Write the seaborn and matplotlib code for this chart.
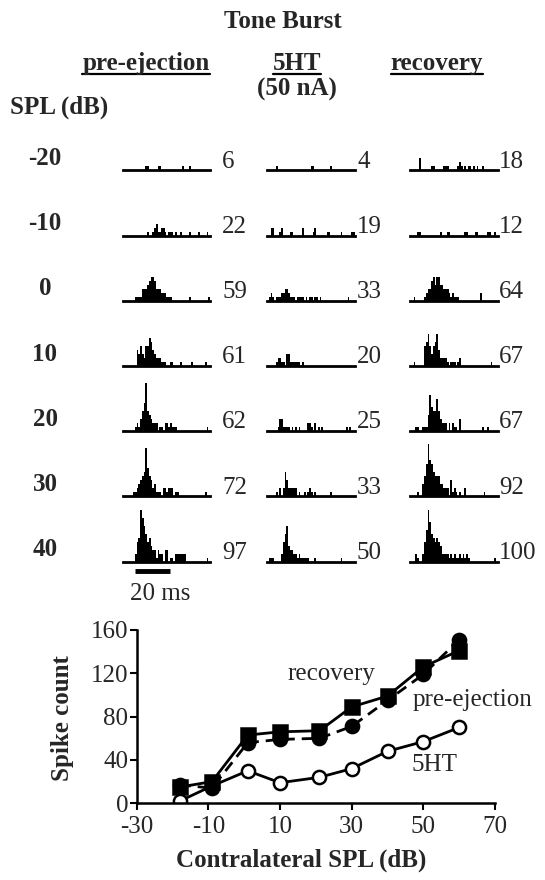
import numpy as np
import pandas as pd
import matplotlib
matplotlib.use('Agg')
import matplotlib.pyplot as plt
from matplotlib.lines import Line2D
import seaborn as sns

# PSTHs: spikes per 1 ms bin in a 0-50 ms window (only non-empty bins listed)
levels = ['-20', '-10', '0', '10', '20', '30', '40']

psth_pre = [
    {13: 1, 14: 1, 20: 1, 21: 1, 34: 1, 38: 1},
    {14: 1, 17: 1, 18: 2, 19: 3, 20: 1, 21: 1, 22: 2, 23: 2, 24: 1, 26: 1, 27: 1, 28: 1, 30: 1,
     33: 1, 38: 1, 43: 1, 48: 1},
    {7: 1, 8: 1, 9: 1, 10: 1, 11: 3, 12: 3, 13: 3, 14: 4, 15: 5, 16: 6, 17: 6, 18: 5, 19: 3,
     20: 3, 21: 3, 22: 2, 23: 2, 24: 2, 25: 1, 26: 1, 27: 1, 38: 1, 49: 1},
    {8: 4, 9: 3, 10: 5, 11: 3, 12: 2, 13: 5, 14: 5, 15: 7, 16: 6, 17: 4, 18: 3, 19: 2, 20: 2,
     21: 2, 22: 1, 23: 1, 24: 1, 27: 1, 28: 1, 33: 1, 39: 1, 47: 1},
    {7: 1, 8: 2, 9: 1, 10: 3, 11: 5, 12: 7, 13: 12, 14: 5, 15: 4, 16: 3, 17: 2, 18: 2, 19: 2,
     21: 1, 22: 1, 24: 2, 25: 2, 26: 1, 27: 2, 28: 1, 29: 1, 30: 1, 48: 1},
    {6: 1, 7: 1, 8: 2, 9: 3, 10: 4, 11: 5, 12: 6, 13: 12, 14: 7, 15: 5, 16: 4, 17: 2, 18: 3,
     19: 1, 20: 1, 21: 1, 23: 2, 24: 2, 25: 1, 26: 2, 27: 2, 28: 2, 30: 1, 31: 1, 47: 1},
    {7: 2, 8: 5, 9: 6, 10: 13, 11: 11, 12: 9, 13: 7, 14: 5, 15: 6, 16: 4, 17: 3, 18: 3, 19: 1,
     20: 3, 21: 2, 22: 2, 24: 3, 25: 3, 27: 1, 28: 1, 30: 2, 31: 2, 32: 2, 33: 2, 34: 2, 35: 2,
     48: 1},
]
psth_5ht = [
    {5: 1, 25: 1, 26: 1, 36: 1},
    {2: 2, 3: 2, 7: 1, 8: 2, 13: 1, 14: 1, 20: 2, 26: 1, 27: 2, 34: 1, 35: 1, 42: 1, 48: 1, 49: 1},
    {1: 1, 2: 2, 3: 1, 5: 1, 6: 1, 7: 1, 8: 2, 9: 2, 10: 3, 11: 3, 12: 2, 13: 1, 14: 1, 15: 1,
     17: 1, 18: 1, 19: 1, 20: 1, 22: 1, 24: 1, 25: 1, 27: 1, 28: 1, 30: 1, 46: 1},
    {5: 1, 6: 2, 7: 2, 8: 1, 9: 1, 11: 3, 12: 3, 13: 1, 14: 1, 15: 1, 16: 1, 17: 1, 18: 1, 20: 1},
    {6: 1, 7: 3, 8: 3, 9: 1, 10: 1, 11: 1, 12: 1, 14: 1, 16: 1, 18: 1, 23: 2, 24: 2, 25: 1,
     27: 2, 29: 1, 31: 1, 45: 1, 47: 1},
    {5: 1, 7: 2, 9: 2, 10: 6, 11: 4, 12: 2, 13: 2, 14: 2, 15: 2, 16: 2, 18: 1, 21: 1, 23: 1,
     24: 2, 25: 1, 27: 1, 36: 1},
    {1: 1, 2: 1, 3: 1, 8: 2, 9: 5, 10: 7, 11: 9, 12: 4, 13: 3, 14: 3, 15: 2, 16: 2, 17: 1,
     18: 2, 19: 1, 20: 1, 21: 1, 22: 1, 23: 1, 27: 1, 42: 1},
]
psth_rec = [
    {5: 3, 12: 1, 13: 1, 19: 1, 20: 1, 21: 1, 27: 1, 28: 2, 29: 1, 31: 1, 33: 1, 34: 1, 36: 1,
     38: 1, 41: 1},
    {4: 1, 5: 1, 17: 1, 21: 1, 22: 1, 31: 1, 32: 1, 37: 1, 38: 1, 44: 1, 45: 1, 48: 1},
    {2: 1, 8: 1, 9: 2, 10: 3, 11: 3, 12: 5, 13: 6, 14: 4, 15: 6, 16: 6, 17: 4, 18: 4, 19: 3,
     20: 3, 21: 3, 22: 2, 23: 1, 24: 2, 25: 1, 26: 1, 27: 1, 40: 2},
    {2: 1, 8: 5, 9: 6, 10: 8, 11: 5, 12: 3, 13: 5, 14: 6, 15: 8, 16: 4, 17: 2, 18: 2, 19: 2,
     20: 2, 21: 1, 23: 1, 24: 1, 25: 1, 27: 1, 28: 2, 46: 1},
    {3: 1, 4: 1, 7: 1, 8: 1, 9: 1, 10: 4, 11: 9, 12: 6, 13: 5, 14: 5, 15: 8, 16: 5, 17: 3,
     18: 2, 19: 2, 20: 2, 22: 2, 24: 2, 25: 1, 26: 1, 28: 3, 41: 1, 44: 1},
    {4: 1, 7: 3, 8: 5, 9: 8, 10: 13, 11: 9, 12: 8, 13: 6, 14: 5, 15: 5, 16: 5, 17: 3, 18: 3,
     19: 2, 20: 2, 21: 2, 23: 4, 24: 1, 25: 2, 26: 1, 28: 1, 31: 2, 42: 1},
    {3: 2, 4: 1, 7: 2, 8: 5, 9: 8, 10: 13, 11: 10, 12: 7, 13: 6, 14: 5, 15: 6, 16: 5, 17: 4,
     18: 2, 19: 2, 20: 2, 21: 2, 22: 1, 23: 2, 24: 1, 25: 2, 26: 1, 27: 1, 28: 2, 29: 1, 30: 2,
     31: 1, 32: 2, 33: 1, 48: 1},
]
counts_pre = [6, 22, 59, 61, 62, 72, 97]
counts_5ht = [4, 19, 33, 20, 25, 33, 50]
counts_rec = [18, 12, 64, 67, 67, 92, 100]
scale_bar_ms = (7, 27)

# spike count vs contralateral SPL
spl_x = [-18, -9, 1, 10, 21, 30, 40, 50, 60]
spikes_pre = [17, 14, 56, 59, 60, 71, 95, 119, 151]
spikes_5ht = [2, 16, 30, 19, 24, 32, 48, 57, 70]
spikes_rec = [15, 20, 63, 66, 67, 89, 99, 126, 141]

sns.set_theme(style='white')
plt.rcParams['font.family'] = ['Liberation Serif', 'DejaVu Serif']
plt.rcParams['axes.unicode_minus'] = False
FS = 18

W, H = 545, 880
fig = plt.figure(figsize=(W / 100, H / 100), dpi=100)


def fx(px):
    return px / W


def fy(py):
    return 1 - py / H


col_left = [122.7, 267, 410]
col_w = 87.5
panel_h = 52
row_base = [170.5 + 65.2 * i for i in range(7)]
count_x = [222, 357, 499]
bins = list(range(51))

columns = [(psth_pre, counts_pre), (psth_5ht, counts_5ht), (psth_rec, counts_rec)]
for r, lev in enumerate(levels):
    base = row_base[r]
    fig.text(fx(45), fy(base - 12), lev, ha='center', va='center',
             fontsize=FS, fontweight='bold')
    for c, (psths, counts) in enumerate(columns):
        ax = fig.add_axes([fx(col_left[c]), fy(base), col_w / W, panel_h / H])
        df = pd.DataFrame({'t': [b + 0.5 for b in psths[r]],
                           'n': list(psths[r].values())})
        sns.histplot(data=df, x='t', weights='n', bins=bins, ax=ax, color='black',
                     alpha=1, linewidth=0, element='bars')
        ax.set_xlim(0, 50)
        ax.set_ylim(0, 13)
        ax.set(xlabel='', ylabel='', xticks=[], yticks=[])
        sns.despine(ax=ax, left=True)
        ax.spines['bottom'].set_linewidth(2)
        ax.spines['bottom'].set_color('black')
        ax.patch.set_visible(False)
        fig.text(fx(count_x[c]), fy(base - 9), str(counts[r]), ha='left',
                 va='center', fontsize=FS)
        if r == len(levels) - 1 and c == 0:
            ax.plot(scale_bar_ms, [-2.2, -2.2], color='black', lw=3.5,
                    clip_on=False, solid_capstyle='butt')
            ax.text(21.5, -5.2, '20 ms', ha='center', va='top', fontsize=FS)

# headers
fig.text(fx(283), fy(21), 'Tone Burst', ha='center', va='center',
         fontsize=FS, fontweight='bold')
heads = []
for label, xc in [('pre-ejection', 146), ('5HT', 297), ('recovery', 437)]:
    t = fig.text(fx(xc), fy(70), label, ha='center', va='baseline',
                 fontsize=FS, fontweight='bold')
    heads.append(t)
fig.text(fx(297), fy(89), '(50 nA)', ha='center', va='center',
         fontsize=FS, fontweight='bold')
fig.text(fx(10), fy(107), 'SPL (dB)', ha='left', va='center',
         fontsize=FS, fontweight='bold')

fig.canvas.draw()
rend = fig.canvas.get_renderer()
for t in heads:
    bb = t.get_window_extent(rend)
    fig.add_artist(Line2D([bb.x0 / W, bb.x1 / W], [fy(74), fy(74)],
                          transform=fig.transFigure, color='black', lw=1.6))

# bottom panel
ax_h = 173.3
ax = fig.add_axes([fx(136.7), fy(803.3), 358.3 / W, ax_h / H])
line_kw = dict(color='black', linewidth=2, markersize=9.5, markeredgewidth=1.8,
               markeredgecolor='black')
sns.lineplot(x=spl_x, y=spikes_5ht, ax=ax, marker='o', markerfacecolor='white',
             sort=False, **line_kw)
sns.lineplot(x=spl_x, y=spikes_pre, ax=ax, marker='o', markerfacecolor='black',
             linestyle=(0, (4, 2.5)), sort=False, **line_kw)
sns.lineplot(x=spl_x, y=spikes_rec, ax=ax, marker='s', markerfacecolor='black',
             sort=False, **line_kw)
ax.set_xlim(-30, 70)
ax.set_ylim(0, 160)
ax.set_xticks([-30, -10, 10, 30, 50, 70])
ax.set_yticks([0, 40, 80, 120, 160])
sns.despine(ax=ax)
for s in ['left', 'bottom']:
    ax.spines[s].set_linewidth(1.8)
    ax.spines[s].set_color('black')
ax.tick_params(axis='both', direction='out', length=5, width=1.5, color='black',
               labelsize=FS, bottom=True, left=True)
ax.tick_params(axis='x', pad=4)
ax.tick_params(axis='y', pad=1)
ax.patch.set_visible(False)
ax.set_xlabel('Contralateral SPL (dB)', fontsize=FS, fontweight='bold', va='center')
ax.set_ylabel('Spike count', fontsize=FS, fontweight='bold', va='center')
ax.xaxis.set_label_coords(0.46, (803.3 - 860) / ax_h)
ax.yaxis.set_label_coords(-0.206, (803.3 - 718) / ax_h)
ax.text(24.4, 119, 'recovery', ha='center', va='center', fontsize=FS)
ax.text(47, 95, 'pre-ejection', ha='left', va='center', fontsize=FS, clip_on=False)
ax.text(46.7, 35, '5HT', ha='left', va='center', fontsize=FS)

fig.savefig('out.png', dpi=100)
